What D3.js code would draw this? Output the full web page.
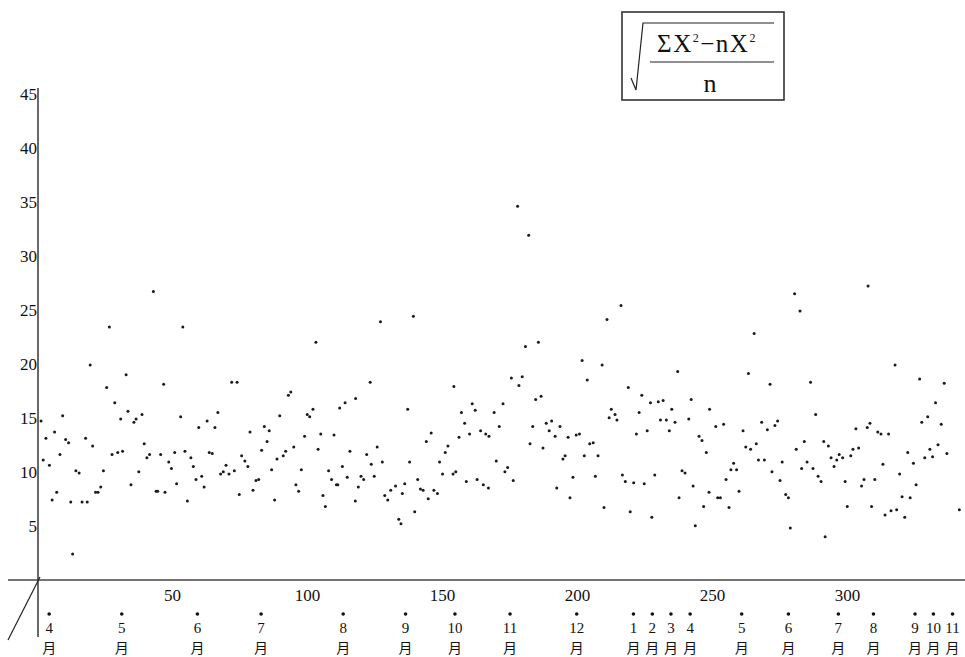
<!DOCTYPE html>
<html>
<head>
<meta charset="utf-8">
<script src="https://cdn.jsdelivr.net/npm/d3@7"></script>
<style>
  body { margin: 0; background: #fff; }
  text { font-family: "Liberation Serif", "DejaVu Serif", serif; fill: #111; }
  .kanji { font-family: "Noto Sans CJK JP", sans-serif; }
</style>
</head>
<body>
<div id="chart"></div>
<script>
// Day index (from start of April) and daily value
var days = [
  // Apr - May
  1.5,2.3,3.3,4.6,5.6,6.5,7.3,8.5,9.5,10.6,11.7,12.5,13.2,14.4,15.6,16.7,18,18.6,19.7,20.6,
  21.7,22.6,23.6,24.6,25.8,26.8,27.8,28.8,29.9,31,31.7,33,33.7,34.8,35.9,36.7,37.7,38.9,39.7,40.7,
  41.7,43.1,44.1,44.7,45.8,46.9,47.4,48.8,49.8,51,51.7,53.2,54,54.8,55.7,57,57.9,58.9,59.9,
  // Jun - Jul
  61,61.9,63,63.8,64.9,65.9,67,68,69,70,71.1,72.1,73.1,74.1,74.9,75.8,77,78.1,78.9,80,
  81.1,82.1,83.2,84.2,85.2,86,86.9,88,88.9,89.9,91.2,92.1,93.1,94,95.1,95.9,96.9,97.9,99.1,100.1,
  101,102.2,103.3,104.1,105.1,105.9,106.8,108,109.1,110,110.9,111.4,112.1,113.1,114.1,114.9,115.9,117.9,118,119,
  // Aug - Oct
  120,121,122.1,123.4,123.8,124.9,126,127.2,127.9,128.8,129.9,131,132.8,134,134.8,135.3,136.2,137.3,138,139.4,
  139.9,141,142,143,144.2,144.9,146,147,148.3,149.1,150.2,151.2,152.2,154.1,154.4,155.1,156.3,157.2,158.4,159,
  160.2,161.2,162.3,163,164.3,165.3,166.2,167.2,167.4,169.3,170.1,171.2,172.6,173.3,174.3,175.7,176.4,178.5,
  // Nov - Jan
  178,179.7,180.9,182.1,182.6,183.6,184.7,185.7,186.7,187.4,188.6,189.7,190.6,191.9,192.5,193.7,194.8,195.6,196.7,197.4,
  198.5,199.7,200.9,201.9,202.7,203.8,204.7,206,206.8,207.8,209.3,210,211.1,211.9,212.7,214.1,214.8,216.3,216.8,217.9,
  219,219.7,221,222,223,224,224.9,226,227.2,227.7,228.8,230.1,230.9,231.9,233.1,234.2,235.1,236.3,237.3,237.8,
  // Apr - Jun
  238.9,240,241.4,242.3,243,243.8,245.2,246.3,246.9,247.9,248.9,249.1,251.4,252.1,253.1,254.3,255.2,256.3,257,258,
  259.1,260,261.5,262.5,263.5,264.3,265.6,266.4,267.2,268.4,269.4,270.5,271.5,272.2,273.3,274.3,275.2,276,277.3,278.3,
  279,280.6,281.2,282.6,283.2,284.2,285.2,286.5,287.4,288.4,289.3,290.4,291.4,291.9,293.1,294.1,295.2,296.2,297.1,
  // Jul - Nov
  298.4,299.3,300.1,301.4,302.2,303.3,304.3,305.4,306.3,307.5,307.8,308.5,309.1,310.3,311.4,312.6,313.3,314.1,315.4,316.3,
  317.8,318.4,319.5,320.4,321.4,322.5,323.4,324.6,325.6,326.9,327.7,328.8,329.9,330.7,331.7,332.8,333.7,334.9,336,337,341.6
];
var values = [
  14.9,11.3,13.3,10.8,7.6,13.9,8.3,11.8,15.4,13.2,12.9,7.4,2.6,10.3,10.1,7.4,13.3,7.4,20.1,12.6,
  8.3,8.3,8.8,10.3,18.0,23.6,11.8,16.6,12.0,15.1,12.1,19.2,15.8,9.0,14.8,15.1,10.2,15.5,12.8,11.5,
  11.8,26.9,8.4,8.4,11.8,18.3,8.3,11.1,10.5,12.0,9.1,15.3,23.6,12.1,7.5,11.5,10.7,9.5,14.3,

  9.8,8.8,14.9,12.0,11.9,14.3,15.7,10.0,10.2,10.8,10.0,18.5,10.3,18.5,8.1,11.7,11.2,10.7,13.9,8.5,
  9.4,9.5,12.2,14.4,13.0,14.0,10.4,7.6,11.4,15.4,11.7,12.1,17.3,17.6,12.5,9.0,8.4,10.4,13.5,15.5,
  15.3,16.0,22.2,12.3,13.7,8.0,7.0,10.3,9.5,13.6,9.0,9.0,16.1,10.7,16.6,9.7,12.1,7.5,17.0,8.8,

  9.8,9.5,11.8,18.5,10.9,9.8,12.5,24.1,11.1,8.0,7.6,8.5,8.9,5.8,5.4,8.2,9.1,16.0,11.1,24.6,
  6.5,9.5,8.6,8.5,13.0,7.7,13.8,8.5,8.2,11.1,10.0,12.0,12.6,10.0,18.1,10.2,13.4,15.7,14.7,9.3,
  13.7,16.5,15.9,9.5,14.0,9.0,13.7,8.7,13.5,15.7,11.2,14.4,16.5,10.2,10.6,18.9,9.4,18.2,

  34.8,19.0,21.8,32.1,12.8,14.4,16.9,22.2,17.2,12.4,14.7,14.0,14.9,13.5,8.7,14.4,11.4,11.7,13.4,7.8,
  9.7,13.6,13.7,20.5,11.7,18.7,12.8,12.9,9.8,11.7,20.1,6.9,24.3,15.2,16.0,15.5,15.0,25.6,9.9,9.3,
  18.0,6.5,9.2,13.7,15.7,17.3,9.1,14.0,16.6,6.0,9.9,16.7,15.0,16.8,15.0,14.0,16.0,14.8,19.5,7.8,

  10.3,10.1,15.1,16.9,8.9,5.2,13.5,13.1,7.0,12.0,8.3,16.0,14.4,7.8,7.8,14.6,9.5,6.9,10.4,11.0,
  10.4,8.4,14.0,12.5,19.3,12.3,23.0,12.8,11.3,14.8,11.3,14.1,18.3,10.2,14.5,14.9,9.4,11.1,8.1,7.8,
  5.0,26.7,12.3,25.1,10.5,13.0,11.1,18.5,10.5,15.5,9.8,9.3,13.0,4.2,12.6,11.5,10.7,11.3,11.8,

  11.5,9.3,7.0,11.7,12.3,14.2,12.4,8.9,9.5,14.3,27.4,14.7,7.0,9.5,13.9,13.7,10.9,6.2,13.7,6.6,
  20.1,6.7,10.0,7.9,6.0,12.0,7.8,11.0,9.0,18.8,14.8,11.5,15.3,12.3,11.6,16.6,12.7,14.6,18.4,11.9,6.7
];

var xTicks = [50, 100, 150, 200, 250, 300];
var yTicks = [5, 10, 15, 20, 25, 30, 35, 40, 45];
var monthNums = ["4","5","6","7","8","9","10","11","12","1","2","3","4","5","6","7","8","9","10","11"];
var monthDays = [4.5,31.4,59.4,83,113.4,136.5,154.8,175.2,199.9,220.9,227.9,234.8,241.9,261,278.3,296.8,309.8,325.2,332,339.1];

var svgWidth = 965;
var svgHeight = 657;

var svg = d3.select("#chart")
  .append("svg")
  .attr("width", svgWidth)
  .attr("height", svgHeight);

var x = d3.scaleLinear().domain([0, 300]).range([37, 847]);
var y = d3.scaleLinear().domain([0, 45]).range([582, 96]);

var axisY = 580;

// axis lines
svg.append("line")
  .attr("x1", 8).attr("x2", svgWidth)
  .attr("y1", axisY).attr("y2", axisY)
  .attr("stroke", "#444").attr("stroke-width", 1.4);

svg.append("line")
  .attr("x1", 38).attr("x2", 38)
  .attr("y1", 88).attr("y2", 637)
  .attr("stroke", "#444").attr("stroke-width", 1.6);

// slanted stroke at the origin
svg.append("line")
  .attr("x1", 8).attr("y1", 640)
  .attr("x2", 40).attr("y2", 577)
  .attr("stroke", "#222").attr("stroke-width", 1.2);

// y axis labels
var leftAxis = d3.axisLeft(y).tickValues(yTicks).tickSize(0).tickPadding(1);
var gy = svg.append("g")
  .attr("transform", "translate(38,0)")
  .call(leftAxis);
gy.select(".domain").remove();
gy.attr("font-family", null).attr("font-size", null);
gy.selectAll("text")
  .style("font-size", "17px")
  .attr("dy", "0.2em");

// x axis labels
var bottomAxis = d3.axisBottom(x).tickValues(xTicks).tickSize(0).tickPadding(9);
var gx = svg.append("g")
  .attr("transform", "translate(0," + axisY + ")")
  .call(bottomAxis);
gx.select(".domain").remove();
gx.attr("font-family", null).attr("font-size", null);
gx.selectAll("text").style("font-size", "17px");

// month markers: dot, number, then 月 underneath
var months = svg.append("g").selectAll("g")
  .data(monthNums)
  .enter()
  .append("g")
  .attr("transform", function(d, i) { return "translate(" + x(monthDays[i]) + ",0)"; });

months.append("circle")
  .attr("cy", 614)
  .attr("r", 1.8)
  .attr("fill", "#111");

months.append("text")
  .attr("y", 633)
  .attr("text-anchor", "middle")
  .style("font-size", "15px")
  .text(function(d) { return d; });

months.append("text")
  .attr("class", "kanji")
  .attr("y", 652.5)
  .attr("text-anchor", "middle")
  .style("font-size", "14px")
  .text("月");

// the points
svg.append("g").selectAll("circle")
  .data(values)
  .enter()
  .append("circle")
  .attr("cx", function(d, i) { return x(days[i]); })
  .attr("cy", function(d) { return y(d); })
  .attr("r", 1.5)
  .attr("fill", "#1a1a1a");

// formula box
var box = svg.append("g");
box.append("rect")
  .attr("x", 622).attr("y", 12)
  .attr("width", 162).attr("height", 88)
  .attr("fill", "none")
  .attr("stroke", "#333")
  .attr("stroke-width", 1.6);

box.append("path")
  .attr("d", "M631,78 L636,90 L643,23 L774,23")
  .attr("fill", "none")
  .attr("stroke", "#222")
  .attr("stroke-width", 1.2);

box.append("line")
  .attr("x1", 650).attr("x2", 774)
  .attr("y1", 62).attr("y2", 62)
  .attr("stroke", "#222").attr("stroke-width", 1.2);

var num = box.append("text")
  .attr("x", 707).attr("y", 52)
  .attr("text-anchor", "middle")
  .style("font-size", "25px")
  .style("letter-spacing", "1.5px");
num.append("tspan").text("ΣX");
num.append("tspan").attr("dy", -10).style("font-size", "12px").text("2");
num.append("tspan").attr("dy", 10).text("−nX");
num.append("tspan").attr("dy", -10).style("font-size", "12px").text("2");

box.append("text")
  .attr("x", 710).attr("y", 92)
  .attr("text-anchor", "middle")
  .style("font-size", "26px")
  .text("n");
</script>
</body>
</html>
